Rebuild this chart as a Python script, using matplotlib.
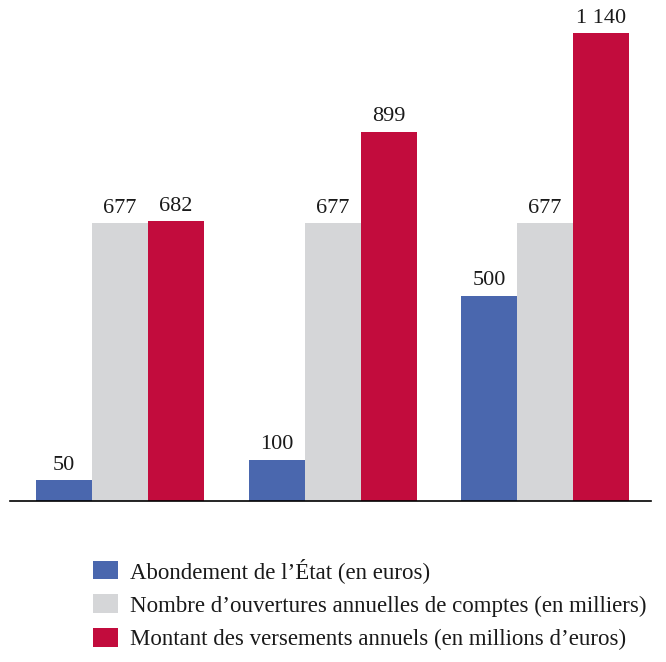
import matplotlib
matplotlib.use("Agg")
import matplotlib.pyplot as plt
import numpy as np

groups = ["1", "2", "3"]
series_names = [
    "Abondement de l\u2019État (en euros)",
    "Nombre d\u2019ouvertures annuelles de comptes (en milliers)",
    "Montant des versements annuels (en millions d\u2019euros)",
]
abondement = [50, 100, 500]
ouvertures = [677, 677, 677]
versements = [682, 899, 1140]
colors = ["#4a67ae", "#d5d6d8", "#c20c3d"]

plt.rcParams["font.family"] = ["Liberation Serif", "DejaVu Serif"]

fig = plt.figure(figsize=(6.66, 6.62), dpi=100)
W, H = 666, 662
ax = fig.add_axes([10 / W, (H - 501) / H, 641 / W, 481 / H])

x = np.arange(len(groups))
w = 56 / 212.5
data = [abondement, ouvertures, versements]
handles = []
for i, (vals, c, name) in enumerate(zip(data, colors, series_names)):
    bars = ax.bar(x + (i - 1) * w, vals, width=w, color=c, label=name, linewidth=0)
    handles.append(bars)
    for b, v in zip(bars, vals):
        txt = f"{v:,}".replace(",", "\u00a0")
        ax.annotate(txt, (b.get_x() + b.get_width() / 2, v), xytext=(0, 4),
                    textcoords="offset points", ha="center", va="bottom",
                    fontsize=16, color="#1a1a1a")

ax.set_xlim(-0.518, 2.499)
ax.set_ylim(0, 1172)
for s in ["top", "right", "left"]:
    ax.spines[s].set_visible(False)
ax.spines["bottom"].set_linewidth(1.2)
ax.set_xticks([])
ax.set_yticks([])

fs = 16.5
em = fs * 100 / 72
leg = fig.legend(handles=handles, labels=series_names, loc="upper left",
                 bbox_to_anchor=(93 / W, 1 - 558 / H), frameon=False,
                 borderpad=0, borderaxespad=0,
                 fontsize=fs, handlelength=25 / em, handleheight=20 / em,
                 handletextpad=12 / em, labelspacing=0.5)
for t in leg.get_texts():
    t.set_color("#1a1a1a")

fig.savefig("out.png", dpi=100)
